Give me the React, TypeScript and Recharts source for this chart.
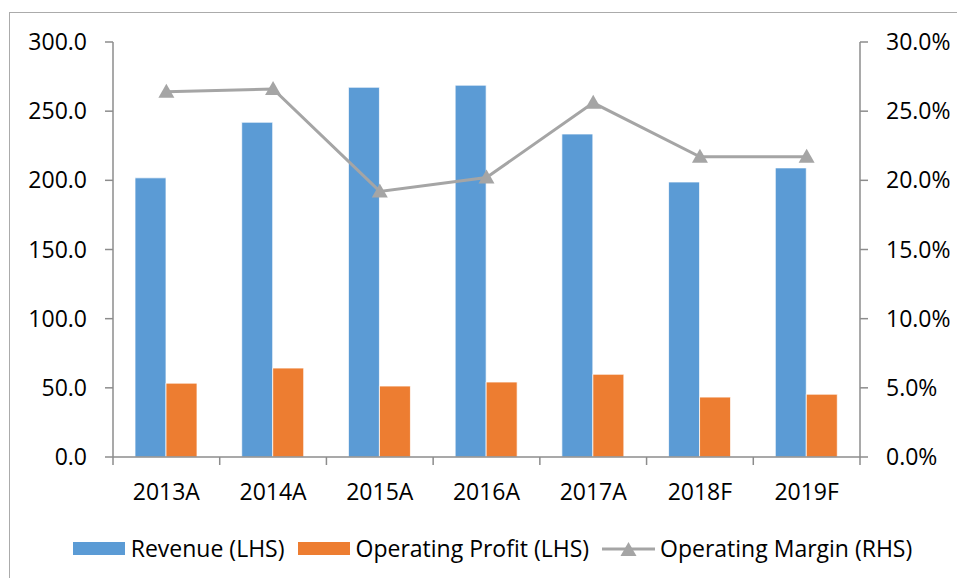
import React from 'react';
import { ComposedChart, Bar, Line, XAxis, YAxis, Legend } from 'recharts';

const categories = ['2013A', '2014A', '2015A', '2016A', '2017A', '2018F', '2019F'];
const revenue = [201.8, 242.0, 267.3, 268.8, 233.5, 198.8, 209.0];
const operatingProfit = [53.4, 64.3, 51.3, 54.2, 59.8, 43.3, 45.4];
const operatingMargin = [26.4, 26.6, 19.2, 20.2, 25.6, 21.7, 21.7];
const leftTicks = [0, 50, 100, 150, 200, 250, 300];
const rightTicks = [0, 5, 10, 15, 20, 25, 30];

const data = categories.map((name, i) => ({
  name,
  revenue: revenue[i],
  profit: operatingProfit[i],
  margin: operatingMargin[i],
}));

const WIDTH = 957;
const HEIGHT = 578;
const PLOT_LEFT = 113;
const PLOT_RIGHT = 860;
const AXIS_W = 80;
const BAND = (PLOT_RIGHT - PLOT_LEFT) / categories.length;

const FONT = '"Open Sans", sans-serif';
const FONT_SIZE = 23;
const AXIS_COLOR = '#8c8c8c';
const BLUE = '#5B9BD5';
const ORANGE = '#ED7D31';
const GREY = '#A5A5A5';

function CategoryTick(props: any) {
  const { x, y, payload, index } = props;
  const marks = [x - BAND / 2];
  if (index === categories.length - 1) marks.push(x + BAND / 2);
  return (
    <g>
      {marks.map((mx) => (
        <line key={mx} x1={mx} x2={mx} y1={y} y2={y + 8} stroke={AXIS_COLOR} strokeWidth={1.5} />
      ))}
      <text x={x} y={y + 43} textAnchor="middle" fill="#000" fontFamily={FONT} fontSize={FONT_SIZE}>
        {payload.value}
      </text>
    </g>
  );
}

function Triangle(props: any) {
  const { cx, cy } = props;
  if (cx == null || cy == null) return null;
  return <path d={`M${cx},${cy - 8} L${cx + 8},${cy + 6} L${cx - 8},${cy + 6} Z`} fill={GREY} />;
}

function renderLegend() {
  const item = { display: 'flex', alignItems: 'center', marginRight: 13 } as const;
  return (
    <div
      style={{
        display: 'flex',
        justifyContent: 'center',
        alignItems: 'center',
        height: 40,
        paddingLeft: 28,
        fontFamily: FONT,
        fontSize: FONT_SIZE,
        color: '#000',
        whiteSpace: 'nowrap',
      }}
    >
      <div style={item}>
        <span style={{ width: 52, height: 13, background: BLUE, marginRight: 6 }} />
        Revenue (LHS)
      </div>
      <div style={item}>
        <span style={{ width: 52, height: 13, background: ORANGE, marginRight: 6 }} />
        Operating Profit (LHS)
      </div>
      <div style={{ ...item, marginRight: 0 }}>
        <svg width={53} height={16} style={{ marginRight: 5 }}>
          <line x1={0} x2={53} y1={9} y2={9} stroke={GREY} strokeWidth={3} />
          <path d="M26.5,2 L34.5,16 L18.5,16 Z" fill={GREY} />
        </svg>
        Operating Margin (RHS)
      </div>
    </div>
  );
}

export default function App() {
  return (
    <div style={{ position: 'absolute', left: 0, top: 0, width: WIDTH, height: HEIGHT, overflow: 'hidden', background: '#fff' }}>
      <div
        style={{
          position: 'absolute',
          left: 9,
          top: 12,
          width: WIDTH,
          height: HEIGHT,
          border: '1.5px solid #ababab',
        }}
      />
      <ComposedChart
        width={WIDTH}
        height={HEIGHT}
        data={data}
        margin={{ top: 42, right: WIDTH - PLOT_RIGHT - AXIS_W, left: PLOT_LEFT - AXIS_W, bottom: 10 }}
        barGap={0}
        style={{ position: 'absolute', left: 0, top: 0 }}
      >
        <XAxis
          dataKey="name"
          height={71}
          axisLine={{ stroke: AXIS_COLOR, strokeWidth: 1.5 }}
          tickLine={false}
          tickSize={0}
          tickMargin={0}
          tick={<CategoryTick />}
          interval={0}
        />
        <YAxis
          yAxisId="left"
          width={AXIS_W}
          domain={[0, 300]}
          ticks={leftTicks}
          tickFormatter={(v: number) => v.toFixed(1)}
          axisLine={{ stroke: AXIS_COLOR, strokeWidth: 1.5 }}
          tickLine={{ stroke: AXIS_COLOR, strokeWidth: 1.5 }}
          tickSize={8}
          tickMargin={18}
          tick={{ fill: '#000', fontFamily: FONT, fontSize: FONT_SIZE }}
        />
        <YAxis
          yAxisId="right"
          orientation="right"
          width={AXIS_W}
          domain={[0, 30]}
          ticks={rightTicks}
          tickFormatter={(v: number) => `${v.toFixed(1)}%`}
          axisLine={{ stroke: AXIS_COLOR, strokeWidth: 1.5 }}
          tickLine={{ stroke: AXIS_COLOR, strokeWidth: 1.5 }}
          tickSize={8}
          tickMargin={18}
          tick={{ fill: '#000', fontFamily: FONT, fontSize: FONT_SIZE, textAnchor: 'start' }}
        />
        <Legend
          verticalAlign="bottom"
          content={renderLegend}
          wrapperStyle={{ left: 0, width: WIDTH }}
        />
        <Bar yAxisId="left" dataKey="revenue" name="Revenue (LHS)" fill={BLUE} barSize={31} stroke="#ffffff" strokeWidth={0.75} isAnimationActive={false} />
        <Bar yAxisId="left" dataKey="profit" name="Operating Profit (LHS)" fill={ORANGE} barSize={31} stroke="#ffffff" strokeWidth={0.75} isAnimationActive={false} />
        <Line
          yAxisId="right"
          dataKey="margin"
          name="Operating Margin (RHS)"
          stroke={GREY}
          strokeWidth={3}
          dot={<Triangle />}
          activeDot={false}
          isAnimationActive={false}
        />
      </ComposedChart>
    </div>
  );
}
